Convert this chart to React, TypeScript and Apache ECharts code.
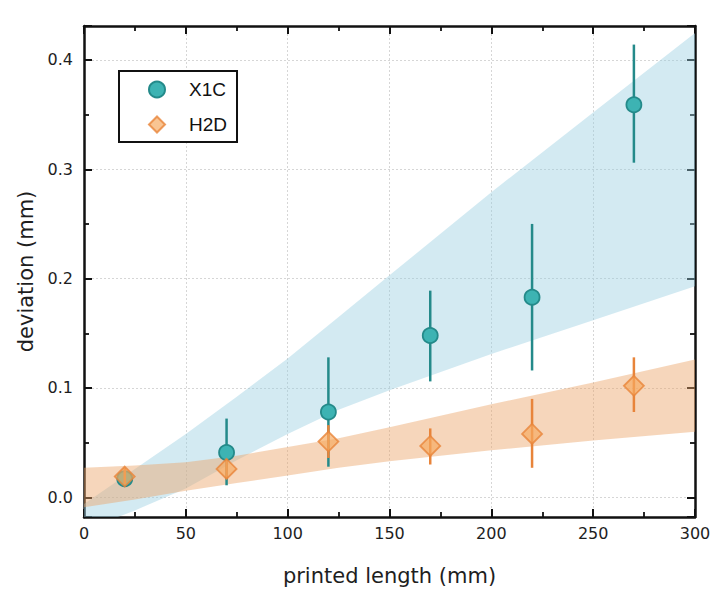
import React, { useEffect, useRef } from "react";
import * as echarts from "echarts";

// ---- data ----
const lengths = [20, 70, 120, 170, 220, 270];

const x1cMean = [0.017, 0.041, 0.078, 0.148, 0.183, 0.359];
const x1cLow = [0.011, 0.011, 0.028, 0.106, 0.116, 0.306];
const x1cHigh = [0.023, 0.072, 0.128, 0.189, 0.250, 0.414];

const h2dMean = [0.019, 0.026, 0.051, 0.047, 0.058, 0.102];
const h2dLow = [0.012, 0.017, 0.036, 0.030, 0.027, 0.078];
const h2dHigh = [0.027, 0.035, 0.066, 0.063, 0.090, 0.128];

// confidence bands
const bandX = [0, 25, 50, 75, 100, 125, 150, 200, 250, 300];
const blueUpper = [-0.006, 0.026, 0.058, 0.092, 0.127, 0.165, 0.203, 0.279, 0.352, 0.4245];
const blueLower = [-0.03, -0.012, 0.008, 0.034, 0.058, 0.08, 0.098, 0.131, 0.162, 0.193];
const orangeUpper = [0.027, 0.029, 0.032, 0.038, 0.046, 0.054, 0.064, 0.085, 0.105, 0.126];
const orangeLower = [-0.009, -0.002, 0.006, 0.013, 0.02, 0.027, 0.033, 0.043, 0.052, 0.06];

const xTicks = { min: 0, max: 300, interval: 50 };
const yRange = { min: -0.018, max: 0.431 };

const TEAL_FILL = "#3db3b3";
const TEAL_DARK = "#248a8a";
const ORANGE_FILL = "rgba(246,170,96,0.85)";
const ORANGE_DARK = "#e8843a";
const TICK_FONT = "'DejaVu Sans', 'Noto Sans', sans-serif";

function bandSeries(name: string, upper: number[], lower: number[], color: string, z: number) {
  return {
    type: "custom",
    name,
    z,
    clip: true,
    silent: true,
    data: bandX.map((x, i) => [x, lower[i], upper[i]]),
    encode: { x: 0, y: [1, 2] },
    renderItem: (params: any, api: any) => {
      if (params.dataIndex !== 0) return null;
      const pts: number[][] = [];
      for (let i = 0; i < bandX.length; i++) pts.push(api.coord([bandX[i], upper[i]]));
      for (let i = bandX.length - 1; i >= 0; i--) pts.push(api.coord([bandX[i], lower[i]]));
      return {
        type: "polygon",
        shape: { points: pts },
        style: { fill: color, stroke: "none" },
      };
    },
  };
}

function errorSeries(name: string, low: number[], high: number[], color: string, z: number) {
  return {
    type: "custom",
    name,
    z,
    silent: true,
    data: lengths.map((x, i) => [x, low[i], high[i]]),
    encode: { x: 0, y: [1, 2] },
    renderItem: (params: any, api: any) => {
      const a = api.coord([api.value(0), api.value(1)]);
      const b = api.coord([api.value(0), api.value(2)]);
      return {
        type: "line",
        shape: { x1: a[0], y1: a[1], x2: b[0], y2: b[1] },
        style: { stroke: color, lineWidth: 2.5 },
      };
    },
  };
}

const axisLineStyle = { show: true, onZero: false, lineStyle: { color: "#111", width: 2.5 } };
const tickStyle = { show: true, inside: true, length: 8, lineStyle: { color: "#111", width: 2 } };
const minorStyle = { show: true, splitNumber: 2, length: 5, lineStyle: { color: "#111", width: 1.8 } };
const gridLine = { show: true, lineStyle: { color: "#d6d6d6", type: [2, 2], width: 1 } };

export default function App() {
  const ref = useRef<HTMLDivElement>(null);
  useEffect(() => {
    if (!ref.current) return;
    document.body.style.margin = "0";
    const chart = echarts.init(ref.current, undefined, { renderer: "svg" });
    chart.setOption({
      animation: false,
      backgroundColor: "#ffffff",
      grid: { left: 84, right: 33, top: 26, bottom: 83, containLabel: false },
      legend: {
        data: ["X1C", "H2D"],
        orient: "vertical",
        left: 119,
        top: 71,
        itemWidth: 16,
        itemHeight: 16,
        itemGap: 16,
        padding: [9, 10, 8, 29],
        borderColor: "#111",
        borderWidth: 2,
        backgroundColor: "#ffffff",
        textStyle: {
          fontFamily: "'Liberation Sans', Arial, sans-serif",
          fontSize: 19,
          color: "#111",
          padding: [0, 0, 0, 19],
        },
      },
      xAxis: [
        {
          type: "value",
          position: "bottom",
          min: xTicks.min,
          max: xTicks.max,
          interval: xTicks.interval,
          axisLine: axisLineStyle,
          axisTick: tickStyle,
          minorTick: minorStyle,
          splitLine: gridLine,
          axisLabel: { fontFamily: TICK_FONT, fontSize: 16, color: "#1e1e1e", margin: 8 },
          name: "printed length (mm)",
          nameLocation: "middle",
          nameGap: 48,
          nameTextStyle: { fontFamily: TICK_FONT, fontSize: 21, color: "#1e1e1e" },
        },
        {
          type: "value",
          position: "top",
          min: xTicks.min,
          max: xTicks.max,
          interval: xTicks.interval,
          axisLine: axisLineStyle,
          axisTick: tickStyle,
          minorTick: minorStyle,
          splitLine: { show: false },
          axisLabel: { show: false },
        },
      ],
      yAxis: [
        {
          type: "value",
          position: "left",
          min: yRange.min,
          max: yRange.max,
          splitNumber: 5,
          axisLine: axisLineStyle,
          axisTick: tickStyle,
          minorTick: minorStyle,
          splitLine: gridLine,
          axisLabel: {
            fontFamily: TICK_FONT,
            fontSize: 16,
            color: "#1e1e1e",
            margin: 11,
            showMinLabel: false,
            showMaxLabel: false,
            formatter: (v: number) => v.toFixed(1),
          },
          name: "deviation (mm)",
          nameLocation: "middle",
          nameGap: 44,
          nameTextStyle: { fontFamily: TICK_FONT, fontSize: 21, color: "#1e1e1e" },
        },
        {
          type: "value",
          position: "right",
          min: yRange.min,
          max: yRange.max,
          splitNumber: 5,
          axisLine: axisLineStyle,
          axisTick: tickStyle,
          minorTick: minorStyle,
          splitLine: { show: false },
          axisLabel: { show: false },
        },
      ],
      series: [
        bandSeries("blueBand", blueUpper, blueLower, "rgba(150,205,225,0.42)", 1),
        bandSeries("orangeBand", orangeUpper, orangeLower, "rgba(235,165,105,0.45)", 2),
        errorSeries("x1cErr", x1cLow, x1cHigh, TEAL_DARK, 3),
        {
          type: "scatter",
          name: "X1C",
          z: 4,
          symbol: "circle",
          symbolSize: 15,
          itemStyle: { color: TEAL_FILL, borderColor: TEAL_DARK, borderWidth: 1.8, opacity: 1 },
          data: lengths.map((x, i) => [x, x1cMean[i]]),
        },
        errorSeries("h2dErr", h2dLow, h2dHigh, ORANGE_DARK, 5),
        {
          type: "scatter",
          name: "H2D",
          z: 6,
          symbol: "diamond",
          symbolSize: 20,
          itemStyle: { color: ORANGE_FILL, borderColor: ORANGE_DARK, borderWidth: 1.8 },
          data: lengths.map((x, i) => [x, h2dMean[i]]),
        },
      ],
    });
    return () => chart.dispose();
  }, []);
  return <div ref={ref} style={{ width: 728, height: 600 }} />;
}
